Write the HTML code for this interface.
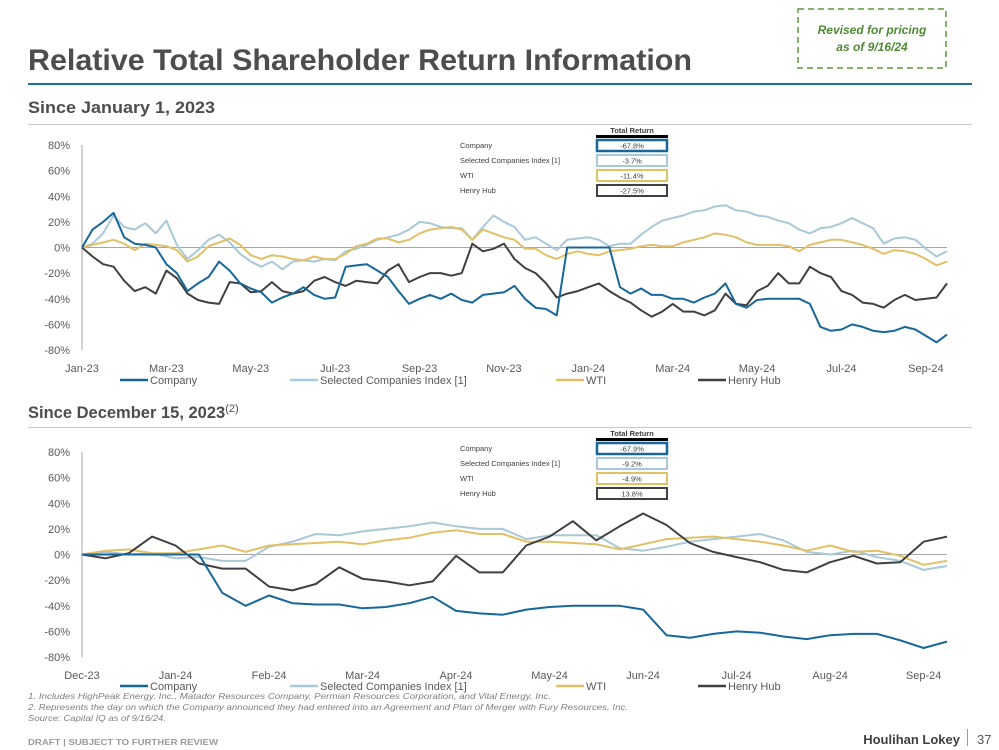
<!DOCTYPE html>
<html><head><meta charset="utf-8"><style>
html,body{margin:0;padding:0;background:#fff;}
svg{display:block;font-family:"Liberation Sans",sans-serif;}
</style></head><body>
<svg id="page" width="999" height="750" viewBox="0 0 999 750">
<rect x="798" y="9" width="148" height="59" fill="none" stroke="#5a9a3a" stroke-width="1.5" stroke-dasharray="6,4"/>
<text x="872" y="34" text-anchor="middle" font-size="12" font-style="italic" font-weight="bold" fill="#4f8a35">Revised for pricing</text>
<text x="872" y="51" text-anchor="middle" font-size="12" font-style="italic" font-weight="bold" fill="#4f8a35">as of 9/16/24</text>
<text x="28" y="70" font-size="30" font-weight="bold" fill="#4d4d4d" textLength="664" lengthAdjust="spacingAndGlyphs">Relative Total Shareholder Return Information</text>
<rect x="28" y="83" width="944" height="2" fill="#1f6f9f"/>
<text x="28" y="113" font-size="16.5" font-weight="bold" fill="#4d4d4d" textLength="187" lengthAdjust="spacingAndGlyphs">Since January 1, 2023</text>
<rect x="28" y="124" width="944" height="1" fill="#c8c8c8"/>
<text x="28" y="418" font-size="16.5" font-weight="bold" fill="#4d4d4d">Since December 15, 2023<tspan font-size="11" font-weight="normal" dy="-6">(2)</tspan></text>
<rect x="28" y="427" width="944" height="1" fill="#c8c8c8"/>
<g id="c1"></g>
<g id="c2"></g>
<g font-size="8.5" font-style="italic" fill="#7f7f7f">
<text x="28" y="699" textLength="523" lengthAdjust="spacingAndGlyphs">1.  Includes HighPeak Energy, Inc., Matador Resources Company, Permian Resources Corporation, and Vital Energy, Inc.</text>
<text x="28" y="710" textLength="600" lengthAdjust="spacingAndGlyphs">2. Represents the day on which the Company announced they had entered into an Agreement and Plan of Merger with Fury Resources, Inc.</text>
<text x="28" y="721" textLength="138" lengthAdjust="spacingAndGlyphs">Source: Capital IQ as of 9/16/24.</text>
</g>
<text x="28" y="745" font-size="8.5" font-weight="bold" fill="#9a9a9a" textLength="190" lengthAdjust="spacingAndGlyphs">DRAFT | SUBJECT TO FURTHER REVIEW</text>
<text x="960" y="744" text-anchor="end" font-size="13" font-weight="bold" fill="#404040">Houlihan Lokey</text>
<rect x="967" y="729" width="1" height="17" fill="#999"/>
<text x="977" y="744" font-size="13" fill="#595959">37</text>
</svg>
<script>
const NS="http://www.w3.org/2000/svg";
const colors={company:"#17679a",selected:"#a9c8d8",wti:"#e2c068",henry:"#404040"};
const seriesNames=["Company","Selected Companies Index [1]","WTI","Henry Hub"];
const yTicks=[80,60,40,20,0,-20,-40,-60,-80];
// Chart 1 (weekly samples, step 0.25 month from Jan-23)
const c1Labels=["Jan-23","Mar-23","May-23","Jul-23","Sep-23","Nov-23","Jan-24","Mar-24","May-24","Jul-24","Sep-24"];
const c1Company=[0,14,20,27,8,3,2,0,-13,-20,-34,-28,-23,-11,-18,-28,-32,-35,-43,-39,-36,-31,-37,-40,-39,-15,-14,-13,-18,-23,-34,-44,-40,-37,-40,-36,-41,-43,-37,-36,-35,-30,-40,-47,-48,-53,0,0,0,0,0,-31,-36,-32,-37,-37,-40,-40,-43,-39,-36,-28,-44,-47,-41,-40,-40,-40,-40,-44,-62,-65,-64,-60,-62,-65,-66,-65,-62,-64,-69,-74,-68];
const c1Selected=[0,3,11,25,16,14,19,11,21,2,-9,-2,6,10,4,-5,-11,-15,-11,-17,-11,-10,-11,-9,-10,-3,-1,2,6,8,10,14,20,19,16,15,15,6,16,25,20,16,6,8,3,-2,6,7,8,6,1,3,3,10,16,21,23,25,28,29,32,33,29,28,25,24,21,19,14,11,15,16,19,23,19,15,3,7,8,6,-1,-7,-3];
const c1Wti=[0,2,4,6,3,-2,3,2,1,-2,-11,-7,1,4,7,2,-6,-9,-6,-7,-9,-10,-7,-9,-9,-5,1,3,7,7,4,6,11,14,15,16,14,6,14,11,8,6,-1,-1,-6,-9,-5,-3,-5,-6,-3,-2,-1,1,2,1,1,4,6,8,11,10,8,4,2,2,2,1,-3,2,4,6,6,4,2,-1,-5,-2,-3,-5,-9,-14,-11];
const c1Henry=[0,-7,-13,-15,-26,-34,-31,-36,-18,-24,-36,-41,-43,-44,-27,-28,-35,-34,-27,-34,-36,-34,-26,-23,-27,-30,-26,-27,-28,-18,-13,-27,-23,-20,-20,-22,-20,3,-3,-1,3,-9,-16,-20,-28,-39,-36,-34,-31,-28,-34,-39,-43,-49,-54,-50,-44,-50,-50,-53,-49,-36,-44,-45,-34,-30,-20,-28,-28,-15,-20,-23,-34,-37,-43,-44,-47,-41,-37,-41,-40,-39,-28];
const c1Totals=["-67.8%","-3.7%","-11.4%","-27.5%"];
// Chart 2 (step 0.25 month from Dec 15, 2023)
const c2Labels=["Dec-23","Jan-24","Feb-24","Mar-24","Apr-24","May-24","Jun-24","Jul-24","Aug-24","Sep-24"];
const c2Company=[0,0,0,0,0,0,-30,-40,-32,-38,-39,-39,-42,-41,-38,-33,-44,-46,-47,-43,-41,-40,-40,-40,-43,-63,-65,-62,-60,-61,-64,-66,-63,-62,-62,-67,-73,-68];
const c2Selected=[0,2,0,1,-3,-2,-5,-5,6,10,16,15,18,20,22,25,22,20,20,12,15,15,15,5,3,6,10,12,14,16,11,2,0,3,-2,-5,-12,-9];
const c2Wti=[0,3,4,1,1,4,7,2,7,8,9,10,8,11,13,17,19,16,16,10,10,9,8,4,8,12,13,14,12,10,7,3,7,2,3,-1,-8,-5];
const c2Henry=[0,-3,1,14,7,-7,-11,-11,-25,-28,-23,-10,-19,-21,-24,-21,-1,-14,-14,7,14,26,11,22,32,23,9,2,-2,-6,-12,-14,-6,-1,-7,-6,10,14];
const c2Totals=["-67.9%","-9.2%","-4.9%","13.8%"];

function mk(parent,tag,attrs,txt){const e=document.createElementNS(NS,tag);for(const k in attrs)e.setAttribute(k,attrs[k]);if(txt!==undefined)e.textContent=txt;parent.appendChild(e);return e;}

function drawChart(gid,top,bottom,labels,monthStep,stepPerMonth,series,totals,tableTop,legendY){
  const g=document.getElementById(gid);
  const x0=82, xEnd=947;
  const nMonths=(series[0].length-1)/stepPerMonth;
  const xs=m=>x0+m*(xEnd-x0)/nMonths;
  const ys=v=>top+(80-v)*(bottom-top)/160;
  yTicks.forEach(t=>{
    const tx=mk(g,"text",{x:70,y:ys(t)+4,"text-anchor":"end","font-size":"11",fill:"#595959"},t+"%");
    
    
  });
  const ax=mk(g,"line",{x1:x0,y1:top,x2:x0,y2:bottom,stroke:"#a6a6a6","stroke-width":1});
  
  
  const zl=mk(g,"line",{x1:x0,y1:ys(0),x2:xEnd,y2:ys(0),stroke:"#a6a6a6","stroke-width":1});
  
  
  labels.forEach((l,i)=>{
    const tx=mk(g,"text",{x:xs(i*monthStep),y:bottom+22,"text-anchor":"middle","font-size":"11",fill:"#595959"},l);
    
    
  });
  const keys=["company","selected","wti","henry"];
  const order=[1,2,3,0];
  order.forEach(si=>{
    const vals=series[si];
    const pts=vals.map((v,i)=>xs(i/stepPerMonth).toFixed(1)+","+ys(v).toFixed(1)).join(" ");
    const pl=mk(g,"polyline",{points:pts,fill:"none",stroke:colors[keys[si]],"stroke-width":2,"stroke-linejoin":"round"});
    
    
  });
  const lx=[120,290,556,698];
  seriesNames.forEach((n,i)=>{
    const ln=mk(g,"line",{x1:lx[i],y1:legendY,x2:lx[i]+28,y2:legendY,stroke:colors[keys[i]],"stroke-width":2.5});
    
    
    const tx=mk(g,"text",{x:lx[i]+30,y:legendY+4,"font-size":"11",fill:"#595959"},n);
    
    
  });
  const hd=mk(g,"text",{x:632,y:tableTop-3,"text-anchor":"middle","font-size":"7.5","font-weight":"bold",fill:"#404040"},"Total Return");
  
  
  const hb=mk(g,"rect",{x:596,y:tableTop-1,width:72,height:3,fill:"#000"});
  
  
  seriesNames.forEach((n,i)=>{
    const ry=tableTop+4+i*15;
    const tl=mk(g,"text",{x:460,y:ry+8,"font-size":"7.5",fill:"#404040"},n);
    
    
    const rc=mk(g,"rect",{x:597,y:ry,width:70,height:11,fill:"#fff",stroke:colors[keys[i]],"stroke-width":i===0?2.5:2});
    
    
    const tv=mk(g,"text",{x:632,y:ry+8.5,"text-anchor":"middle","font-size":"7.5",fill:"#404040"},totals[i]);
    
    
  });
}
drawChart("c1",145,350,c1Labels,2,4,[c1Company,c1Selected,c1Wti,c1Henry],c1Totals,136,380);
drawChart("c2",452,657,c2Labels,1,4,[c2Company,c2Selected,c2Wti,c2Henry],c2Totals,439,686);
</script>
</body></html>
